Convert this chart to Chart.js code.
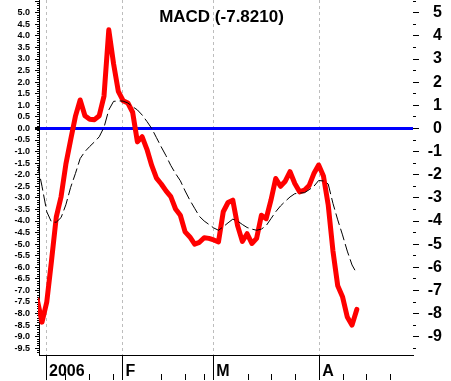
<!DOCTYPE html>
<html>
<head>
<meta charset="utf-8">
<script src="https://cdn.jsdelivr.net/npm/chart.js@4.4.1/dist/chart.umd.min.js"></script>
<style>
  html, body { margin: 0; padding: 0; background: #fff; }
  canvas { display: block; }
</style>
</head>
<body>
<canvas id="macdChart" width="451" height="381"></canvas>
<script>
// MACD line (red) and signal line (black dashed), one value per trading day
const macd = [-7.40, -8.37, -7.50, -5.70, -3.82, -2.95, -1.55, -0.50, 0.52, 1.23,
  0.55, 0.40, 0.38, 0.55, 1.40, 4.26, 2.80, 1.60, 1.20, 1.10,
  0.70, -0.58, -0.36, -0.90, -1.60, -2.15, -2.40, -2.70, -2.95, -3.48,
  -3.75, -4.47, -4.69, -5.00, -4.92, -4.72, -4.75, -4.82, -4.90, -3.60,
  -3.20, -3.10, -4.20, -4.88, -4.55, -4.97, -4.75, -3.75, -3.90, -3.10,
  -2.16, -2.50, -2.28, -1.87, -2.38, -2.74, -2.67, -2.47, -1.95, -1.58,
  -2.05, -3.30, -5.30, -6.80, -7.27, -8.15, -8.50, -7.82];
const signal = [-1.50, -2.50, -3.60, -4.05, -4.05, -3.85, -3.30, -2.55, -1.95, -1.30,
  -1.00, -0.78, -0.58, -0.36, 0.05, 0.80, 1.17, 1.19, 1.18, 1.10,
  0.94, 0.80, 0.58, 0.30, 0.00, -0.40, -0.80, -1.18, -1.60, -1.95,
  -2.26, -2.70, -3.10, -3.45, -3.80, -4.00, -4.15, -4.30, -4.40, -4.25,
  -4.08, -3.92, -4.00, -4.15, -4.28, -4.35, -4.40, -4.35, -4.20, -3.90,
  -3.60, -3.35, -3.15, -2.96, -2.82, -2.79, -2.78, -2.65, -2.50, -2.25,
  -2.27, -2.40, -3.24, -3.95, -4.60, -5.30, -5.90, -6.27];
const days = macd.map((_, i) => i);

// x axis: month starts (labelled) and weekly marks, in day units
const monthTicks = [1.85, 17.85, 36.9, 59.15];
const monthLabels = ['2006', 'F', 'M', 'A'];
const weekTicks = [5.95, 10.95, 15.95, 26.15, 31.15, 35.15, 44.25, 49.15, 54.2, 64.15, 69.1, 74.1];

const titleText = 'MACD (-7.8210)';
const xMin = 0.37, xMax = 78.78;
const yMin = -9.79, yMax = 5.55;

const isMonth = v => monthTicks.some(m => Math.abs(m - v) < 1e-6);
const isHalf = v => Math.abs(v * 2 - Math.round(v * 2)) < 1e-6;
const isInt = v => Math.abs(v - Math.round(v)) < 1e-6;

const titlePlugin = {
  id: 'macdTitle',
  afterDraw(chart) {
    const ctx = chart.ctx;
    ctx.save();
    ctx.font = 'bold 17px "Liberation Sans", Arial, sans-serif';
    ctx.fillStyle = '#000';
    ctx.textAlign = 'center';
    ctx.textBaseline = 'alphabetic';
    ctx.fillText(titleText, 221.5, 22);
    ctx.restore();
  }
};

Chart.defaults.font.family = '"Liberation Sans", Arial, sans-serif';
Chart.defaults.color = '#000';

new Chart(document.getElementById('macdChart'), {
  type: 'line',
  data: {
    labels: days,
    datasets: [{
      label: 'Signal',
      data: signal,
      borderColor: '#000',
      borderWidth: 1,
      borderDash: [12, 4],
      pointRadius: 0,
      order: 0,
      clip: 1
    }, {
      label: 'MACD',
      data: macd,
      borderColor: '#ff0000',
      borderWidth: 5,
      borderJoinStyle: 'round',
      borderCapStyle: 'round',
      pointRadius: 0,
      order: 1,
      clip: 1
    }]
  },
  options: {
    responsive: false,
    animation: false,
    devicePixelRatio: 1,
    layout: { padding: { left: 0, right: 9, top: 0, bottom: 0 } },
    plugins: { legend: { display: false }, tooltip: { enabled: false } },
    elements: { line: { tension: 0 } },
    scales: {
      x: {
        type: 'linear',
        position: 'bottom',
        min: xMin,
        max: xMax,
        afterBuildTicks: s => {
          s.ticks = monthTicks.concat(weekTicks).sort((a, b) => a - b).map(v => ({ value: v }));
        },
        afterFit: s => { s.height = 26; s.paddingLeft = 0; s.paddingRight = 0; },
        ticks: {
          autoSkip: false,
          maxRotation: 0,
          align: 'start',
          labelOffset: 3,
          padding: -18,
          color: '#000',
          font: { size: 16, weight: 'bold' },
          callback: v => {
            const k = monthTicks.findIndex(m => Math.abs(m - v) < 1e-6);
            return k >= 0 ? monthLabels[k] : '';
          }
        },
        grid: {
          color: c => (c.tick && isMonth(c.tick.value)) ? '#bdbdbd' : 'rgba(0,0,0,0)',
          lineWidth: 1,
          tickLength: 25,
          tickColor: '#000',
          tickBorderDash: c => (c.tick && isMonth(c.tick.value)) ? [] : [0, 18, 7, 100]
        },
        border: { display: true, color: '#000', width: 1, dash: [3, 3] }
      },
      y: {
        position: 'left',
        min: yMin,
        max: yMax,
        afterBuildTicks: s => {
          const t = [];
          for (let k = -97; k <= 55; k++) t.push({ value: k / 10 });
          s.ticks = t;
        },
        afterFit: s => { s.width = 39; s.paddingTop = 0; s.paddingBottom = 0; },
        ticks: {
          autoSkip: false,
          padding: 5,
          color: '#000',
          font: { size: 9, weight: 'bold' },
          callback: v => (isHalf(v) && v <= 5.01 && v >= -9.51) ? (Math.round(v * 10) / 10).toFixed(1) : ''
        },
        grid: {
          color: c => (c.tick && Math.abs(c.tick.value) < 1e-6) ? '#0000ff' : 'rgba(0,0,0,0)',
          lineWidth: c => (c.tick && Math.abs(c.tick.value) < 1e-6) ? 3 : 1,
          tickLength: 4,
          tickColor: '#000',
          tickBorderDash: c => (c.tick && isHalf(c.tick.value)) ? [] : [0, 2, 2, 20]
        },
        border: { display: true, color: '#000', width: 1 }
      },
      y2: {
        position: 'right',
        min: yMin,
        max: yMax,
        afterBuildTicks: s => {
          const t = [];
          for (let k = -19; k <= 11; k++) t.push({ value: k / 2 });
          s.ticks = t;
        },
        afterFit: s => { s.width = 29; s.paddingTop = 0; s.paddingBottom = 0; },
        ticks: {
          autoSkip: false,
          padding: 9,
          crossAlign: 'far',
          color: '#000',
          font: { size: 16, weight: 'bold' },
          callback: v => (isInt(v) && v <= 5) ? String(Math.round(v)) : ''
        },
        grid: {
          drawOnChartArea: false,
          tickLength: 6,
          tickColor: '#000',
          tickBorderDash: c => (c.tick && isInt(c.tick.value)) ? [] : [3, 20]
        },
        border: { display: false }
      }
    }
  },
  plugins: [titlePlugin]
});
</script>
</body>
</html>
